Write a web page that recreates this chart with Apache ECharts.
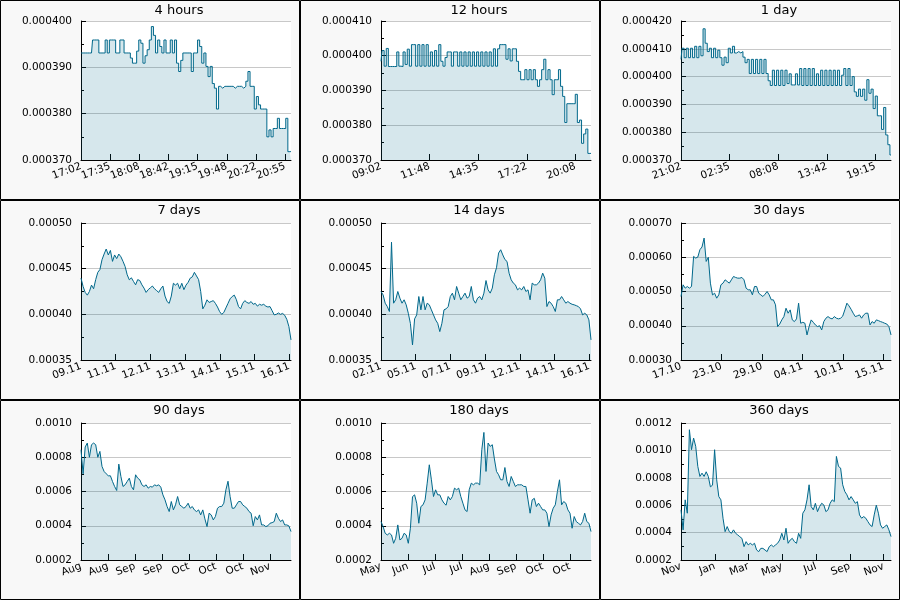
<!DOCTYPE html>
<html><head><meta charset="utf-8">
<script src="https://cdn.jsdelivr.net/npm/echarts@6/dist/echarts.min.js"></script>
<style>html,body{margin:0;padding:0;background:#fff}#c{width:900px;height:600px}</style>
</head><body><div id="c"></div>
<script>
// Prices are stored in millionths (value * 1e-6), sampled evenly across each period.
const UNIT = 1e-6;
const titles = ['4 hours','12 hours','1 day','7 days','14 days','30 days','90 days','180 days','360 days'];
const rangeSec = [14400, 43200, 86400, 604800, 1209600, 2592000, 7776000, 15552000, 31104000];
const tickStepSec = [2000, 10000, 20000, 100000, 200000, 500000, 1000000, 2000000, 5000000];
const tickLabels = [
  ['17:02','17:35','18:08','18:42','19:15','19:48','20:22','20:55'],
  ['09:02','11:48','14:35','17:22','20:08'],
  ['21:02','02:35','08:08','13:42','19:15'],
  ['09.11','11.11','12.11','13.11','14.11','15.11','16.11'],
  ['02.11','05.11','07.11','09.11','12.11','14.11','16.11'],
  ['17.10','23.10','29.10','04.11','10.11','15.11'],
  ['Aug','Aug','Sep','Sep','Oct','Oct','Oct','Nov'],
  ['May','Jun','Jul','Jul','Aug','Sep','Oct','Oct'],
  ['Nov','Jan','Mar','May','Jul','Sep','Nov']
];
const yMin = [0.00037, 0.00037, 0.00037, 0.00035, 0.00035, 0.0003, 0.0002, 0.0002, 0.0002];
const yMax = [0.0004, 0.00041, 0.00042, 0.0005, 0.0005, 0.0007, 0.001, 0.001, 0.0012];
const yStep = [0.00001, 0.00001, 0.00001, 0.00005, 0.00005, 0.0001, 0.0002, 0.0002, 0.0002];
const yDecimals = [6, 6, 6, 5, 5, 5, 4, 4, 4];
// short periods trade at discrete price levels, drawn as steps
const stepped = [true, true, true, false, false, false, false, false, false];

const hours4 = [
393.1,393.1,393.1,393.1,393.1,393.1,395.9,395.9,395.9,393.1,
393.1,393.1,395.9,393.1,395.9,395.9,395.9,393.1,393.1,395.9,
395.9,393.1,393.1,393.1,392.0,390.9,390.9,393.5,395.9,395.2,
390.9,392.5,393.8,395.9,398.8,396.9,393.1,395.9,394.5,393.1,
395.9,393.1,393.1,395.9,393.1,395.9,390.9,389.1,391.5,393.1,
393.1,393.1,393.1,389.1,393.1,393.1,395.9,394.5,390.9,393.1,
390.2,388.0,390.2,386.5,385.5,381.0,385.9,385.5,385.9,385.9,
385.9,385.9,385.9,385.5,385.9,385.9,385.9,385.5,385.9,387.0,
389.1,385.9,385.9,381.0,383.7,381.9,381.0,381.0,381.0,375.0,
376.5,375.0,376.8,376.8,379.0,376.8,376.8,376.8,379.0,371.8,
371.8];
const hours12 = [
398.4,401.5,397.0,402.1,396.9,396.9,396.9,396.9,401.1,397.0,
396.9,401.1,397.5,401.9,397.0,403.2,403.2,397.0,403.2,397.0,
403.2,397.0,403.2,397.0,401.1,397.0,401.5,397.0,403.2,398.4,
397.0,399.5,401.1,401.1,397.0,401.1,401.1,397.0,401.1,397.0,
401.1,397.0,401.1,397.0,401.1,397.0,401.1,397.0,401.1,397.0,
401.1,397.0,401.1,397.0,402.0,397.0,402.0,403.2,403.2,403.2,
399.0,402.0,398.5,402.0,402.0,398.4,395.5,393.1,393.1,396.0,
393.1,396.0,393.1,396.0,393.1,391.2,393.1,396.0,399.0,393.1,
396.0,393.1,388.8,393.1,393.1,396.0,391.2,388.3,380.8,386.2,
386.2,386.2,386.2,388.9,380.8,381.5,374.8,377.5,378.9,371.9,
371.9];
const day1 = [
406.2,410.2,406.8,410.2,406.8,410.2,406.8,410.9,406.8,410.9,
407.5,417.2,412.0,409.0,410.2,406.8,410.2,406.8,409.5,406.8,
404.1,407.0,405.0,410.2,408.5,410.9,408.5,409.0,408.5,409.0,
407.0,405.0,406.2,401.1,406.2,401.1,406.2,401.1,406.2,401.1,
406.2,401.1,398.5,396.8,402.3,396.8,402.3,396.8,402.3,396.8,
402.3,397.5,401.0,397.0,397.0,401.0,397.0,402.9,396.8,402.9,
396.8,402.9,396.8,402.9,396.8,401.0,396.8,402.3,396.8,402.3,
396.8,402.3,396.8,402.3,396.8,402.3,396.8,400.5,402.9,396.8,
402.9,396.8,400.0,394.5,392.9,395.5,392.9,395.5,391.5,398.9,
394.0,395.5,388.5,393.0,385.9,385.9,381.0,388.9,379.0,375.5,
371.8];
const days7 = [
439.6,430.5,424.0,421.0,425.0,432.0,428.0,438.0,446.0,449.0,
459.8,466.0,471.5,465.0,470.0,458.0,465.0,461.0,466.0,463.0,
458.0,452.4,443.3,437.8,440.0,436.0,432.3,438.0,437.0,432.3,
428.7,424.0,427.0,429.0,431.0,428.0,426.0,424.0,428.0,431.0,
420.0,414.0,412.0,420.0,434.0,432.0,434.0,428.0,434.0,427.0,
432.0,435.0,439.6,441.0,446.0,442.0,438.0,425.0,406.0,410.0,
415.9,413.0,414.0,415.0,412.0,408.0,403.0,400.0,402.0,407.0,
412.0,417.0,419.5,421.0,416.0,408.5,406.0,412.0,415.0,413.0,
412.0,414.0,411.0,412.0,409.0,411.0,410.0,411.0,409.0,408.0,
408.5,404.0,399.4,400.0,401.5,400.0,401.0,399.0,394.5,386.6,
372.0];
const days14 = [
425.0,421.3,412.2,408.5,403.1,479.0,412.2,415.9,425.0,417.7,
412.2,415.9,410.4,401.2,390.0,366.5,395.0,399.4,419.5,404.9,
419.5,404.9,412.2,410.4,404.9,399.4,393.9,390.2,381.1,390.2,
404.9,406.0,408.5,419.5,423.2,415.9,430.5,423.2,415.9,419.5,
423.2,417.7,419.5,430.5,415.9,412.2,417.7,419.5,415.9,423.2,
437.0,426.8,423.2,428.7,443.3,451.0,467.1,470.7,465.0,460.0,
457.9,445.0,437.8,434.2,432.3,426.8,428.7,426.8,430.5,425.0,
426.8,415.9,434.2,432.3,432.3,434.2,437.8,445.1,439.6,408.5,
414.0,412.2,408.5,403.1,415.9,415.9,419.5,415.9,412.2,414.0,
412.2,411.0,410.4,409.5,408.5,406.0,399.4,401.2,399.4,393.9,
372.0];
const days30 = [
485.4,519.5,509.8,514.6,509.8,514.6,602.4,597.6,600.5,622.0,
630.0,656.0,587.8,600.0,524.4,490.0,495.0,480.5,490.2,519.5,
524.4,534.1,529.3,524.4,534.1,543.9,541.0,539.0,539.0,541.0,
534.1,509.8,504.9,504.9,490.2,514.6,514.6,495.1,490.2,485.4,
492.0,500.0,490.2,475.6,475.6,461.0,397.6,405.0,417.1,426.8,
451.2,436.6,446.3,417.1,412.2,420.0,465.9,407.3,410.0,407.3,
373.2,397.6,417.1,410.0,402.4,397.6,400.0,387.8,412.2,422.0,
426.8,422.0,420.0,426.8,422.0,420.0,422.0,428.0,446.3,465.9,
458.0,448.0,436.6,426.8,429.0,431.7,422.0,431.7,436.6,436.6,
402.4,412.2,407.3,417.1,415.0,412.2,410.0,407.3,405.0,397.6,
373.2];
const days90 = [
843.9,703.4,860.0,882.9,800.0,873.2,882.9,873.2,800.0,834.1,
746.3,717.1,703.4,691.7,691.7,658.5,629.3,605.9,760.0,687.8,
629.3,639.0,658.5,678.0,629.3,609.8,697.6,678.0,668.3,639.0,
629.3,639.0,619.5,629.3,625.4,639.0,633.2,639.0,625.4,580.5,
551.2,512.2,482.9,541.5,492.7,522.0,570.7,522.0,512.2,502.4,
512.2,531.7,502.4,512.2,492.7,482.9,492.7,463.4,492.7,440.0,
395.1,473.2,463.4,434.1,453.7,502.4,512.2,512.2,531.7,609.8,
660.0,570.7,502.4,502.4,522.0,541.5,541.5,522.0,512.2,502.4,
482.9,473.2,400.0,453.7,434.1,463.4,404.9,404.9,395.1,400.0,
414.6,418.0,424.4,473.2,443.9,424.4,434.1,404.9,404.9,399.0,
365.9];
const days180 = [
424.4,395.1,356.1,346.3,356.1,346.3,297.6,326.8,404.9,317.1,
326.8,356.1,346.3,297.6,385.4,570.0,580.5,531.7,414.6,512.2,
522.0,551.2,648.8,756.0,668.3,570.7,609.8,580.5,580.5,551.2,
531.7,520.0,570.7,551.2,570.7,619.5,609.8,619.5,570.7,531.7,
492.7,482.9,609.8,648.8,639.0,648.8,648.8,639.0,843.9,945.0,
717.1,882.9,863.4,873.2,790.0,717.1,697.6,668.3,668.3,740.0,
658.5,629.3,687.8,658.5,629.3,639.0,639.0,639.0,629.3,629.3,
551.2,473.2,551.2,560.0,512.2,531.7,512.2,492.7,492.7,473.2,
395.1,463.4,502.4,522.0,600.0,668.3,522.0,541.5,531.7,492.7,
473.2,385.4,453.7,424.4,414.6,404.9,424.4,473.2,424.4,414.6,
365.9];
const days360 = [
565.9,420.0,639.0,541.5,1151.0,1005.0,1090.0,1030.0,883.0,810.0,
834.0,810.0,844.0,810.0,734.0,746.0,1005.0,785.0,663.0,639.0,
505.0,407.0,444.0,407.0,395.0,420.0,395.0,383.0,370.0,358.0,
297.6,334.0,310.0,322.0,310.0,322.0,273.0,261.0,285.0,285.0,
273.0,261.0,297.0,310.0,297.0,310.0,322.0,346.0,395.0,346.0,
431.7,322.0,346.0,358.0,334.0,322.0,395.0,358.0,541.5,566.0,
639.0,749.0,590.0,566.0,614.0,553.0,590.0,614.0,602.0,553.0,
566.0,614.0,639.0,626.0,956.0,883.0,871.0,749.0,700.0,676.0,
639.0,663.0,639.0,614.0,626.0,529.0,505.0,517.0,505.0,480.0,
456.0,444.0,529.0,600.0,541.5,456.0,431.7,444.0,456.0,420.0,
370.7];
const seriesValues = [hours4, hours12, day1, days7, days14, days30, days90, days180, days360];

const FONT = 'DejaVu Sans';
const LINE = '#00688b';
const grids = [], xAxes = [], yAxes = [], series = [], titleOpts = [], graphics = [];

function labelAxis(i, step, labs, values, main) {
  return {type: 'value', gridIndex: i, position: 'bottom', offset: 0, min: 0, max: rangeSec[i], interval: step,
    axisLine: {show: main, lineStyle: {color: '#000', width: 1}},
    axisTick: {show: main, inside: true, length: 6, customValues: labs.map((_, k) => k * step), lineStyle: {color: '#000'}},
    axisLabel: {show: true, rotate: 20, margin: 6, fontFamily: FONT, fontSize: 10.5, color: '#000',
      showMinLabel: true, showMaxLabel: true, hideOverlap: false,
      customValues: values, formatter: v => { const k = Math.round(v / step); return labs[k] !== undefined ? labs[k] : ''; }},
    splitLine: {show: false}};
}

titles.forEach((t, i) => {
  const c = i % 3, r = Math.floor(i / 3);
  const ox = 300 * c, oy = 200 * r;
  const topOff = r === 0 ? 21 : 23;
  const step = tickStepSec[i];
  const labs = tickLabels[i];
  const evenVals = [], oddVals = [];
  labs.forEach((_, k) => (k % 2 === 0 ? evenVals : oddVals).push(k * step));
  grids.push({left: ox + 81, top: oy + topOff, width: 210, height: 160 - topOff,
    show: true, backgroundColor: '#ffffff', borderWidth: 0});
  titleOpts.push({text: t, left: ox + 179, top: oy + 4, textAlign: 'center', padding: 0,
    textStyle: {fontFamily: FONT, fontSize: 13, fontWeight: 'normal', color: '#000'}});
  // two bottom axes share the same scale so neighbouring rotated labels are never dropped
  xAxes.push(labelAxis(i, step, labs, evenVals, true));
  xAxes.push(labelAxis(i, step, labs, oddVals, false));
  const dec = yDecimals[i];
  yAxes.push({type: 'value', gridIndex: i, min: yMin[i], max: yMax[i], interval: yStep[i],
    axisLine: {show: true, lineStyle: {color: '#000', width: 1}},
    axisTick: {show: true, inside: true, length: 5, lineStyle: {color: '#000'}},
    minorTick: {show: true, splitNumber: 2, length: 3, lineStyle: {color: '#000'}},
    axisLabel: {fontFamily: FONT, fontSize: 10.5, color: '#000', margin: 9,
      showMinLabel: true, showMaxLabel: true, formatter: v => v.toFixed(dec)},
    splitLine: {show: true, showMinLine: false, lineStyle: {color: '#c8c8c8', width: 1}}});
  const vals = seriesValues[i];
  const n = vals.length;
  series.push({type: 'line', xAxisIndex: 2 * i, yAxisIndex: i, symbol: 'none', animation: false,
    step: stepped[i] ? 'middle' : false,
    data: vals.map((v, k) => [k * rangeSec[i] / (n - 1), v * UNIT]),
    lineStyle: {color: LINE, width: 1},
    areaStyle: {color: 'rgba(0,104,139,0.16)', opacity: 1, origin: 'start'}});
  graphics.push({type: 'rect', shape: {x: ox + 0.5, y: oy + 0.5, width: 299, height: 199},
    style: {fill: null, stroke: '#000', lineWidth: 1}, z: 100});
});

const chart = echarts.init(document.getElementById('c'), null, {renderer: 'canvas'});
chart.setOption({
  backgroundColor: '#f8f8f8',
  animation: false,
  title: titleOpts,
  grid: grids,
  xAxis: xAxes,
  yAxis: yAxes,
  series: series,
  graphic: graphics
});
</script></body></html>
